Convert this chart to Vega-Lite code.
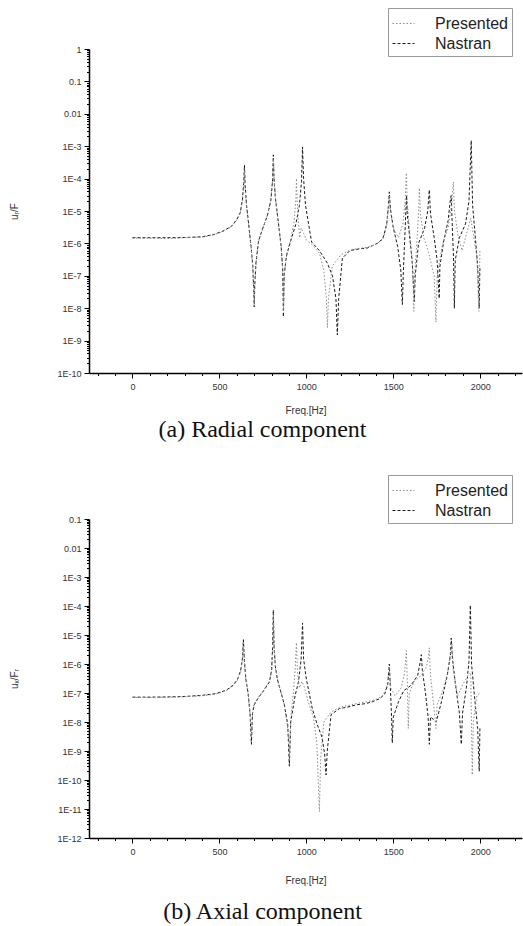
{
 "$schema": "https://vega.github.io/schema/vega-lite/v6.json",
 "autosize": "none",
 "padding": {"left": 89, "top": 49, "right": 434, "bottom": 877},
 "background": "white",
 "config": {"view": {"stroke": null}, "font": "Liberation Sans"},
 "spacing": 146,
 "bounds": "flush",
 "datasets": {
  "radial": [
   {"series":"Nastran","f":0,"v":1.5e-6},{"series":"Nastran","f":100,"v":1.5e-6},{"series":"Nastran","f":200,"v":1.5e-6},{"series":"Nastran","f":300,"v":1.52e-6},{"series":"Nastran","f":400,"v":1.6e-6},{"series":"Nastran","f":470,"v":1.9e-6},{"series":"Nastran","f":520,"v":2.4e-6},{"series":"Nastran","f":570,"v":3.4e-6},{"series":"Nastran","f":600,"v":5.5e-6},{"series":"Nastran","f":620,"v":9e-6},{"series":"Nastran","f":632,"v":2.2e-5},{"series":"Nastran","f":640,"v":8e-5},{"series":"Nastran","f":644,"v":2.6e-4},{"series":"Nastran","f":648,"v":6e-5},{"series":"Nastran","f":656,"v":1.5e-5},{"series":"Nastran","f":668,"v":4e-6},{"series":"Nastran","f":682,"v":8e-7},{"series":"Nastran","f":692,"v":2e-7},{"series":"Nastran","f":698,"v":3e-8},{"series":"Nastran","f":700,"v":1.1e-8},{"series":"Nastran","f":703,"v":5e-8},{"series":"Nastran","f":710,"v":2.5e-7},{"series":"Nastran","f":725,"v":1.2e-6},{"series":"Nastran","f":750,"v":3e-6},{"series":"Nastran","f":775,"v":7e-6},{"series":"Nastran","f":795,"v":2e-5},{"series":"Nastran","f":805,"v":8e-5},{"series":"Nastran","f":810,"v":5.4e-4},{"series":"Nastran","f":814,"v":1e-4},{"series":"Nastran","f":822,"v":2.5e-5},{"series":"Nastran","f":840,"v":4e-6},{"series":"Nastran","f":855,"v":8e-7},{"series":"Nastran","f":864,"v":1.5e-7},{"series":"Nastran","f":868,"v":5.4e-9},{"series":"Nastran","f":872,"v":1e-7},{"series":"Nastran","f":885,"v":4e-7},{"series":"Nastran","f":910,"v":1.2e-6},{"series":"Nastran","f":940,"v":4e-6},{"series":"Nastran","f":960,"v":1.5e-5},{"series":"Nastran","f":972,"v":8e-5},{"series":"Nastran","f":978,"v":9.5e-4},{"series":"Nastran","f":984,"v":1e-4},{"series":"Nastran","f":995,"v":1.5e-5},{"series":"Nastran","f":1030,"v":1.1e-6},{"series":"Nastran","f":1075,"v":6e-7},{"series":"Nastran","f":1120,"v":2.5e-7},{"series":"Nastran","f":1150,"v":1e-7},{"series":"Nastran","f":1170,"v":2e-8},{"series":"Nastran","f":1178,"v":1.5e-9},{"series":"Nastran","f":1186,"v":2e-8},{"series":"Nastran","f":1207,"v":3.5e-7},{"series":"Nastran","f":1250,"v":6e-7},{"series":"Nastran","f":1305,"v":6.8e-7},{"series":"Nastran","f":1350,"v":7.2e-7},{"series":"Nastran","f":1408,"v":1e-6},{"series":"Nastran","f":1440,"v":1.4e-6},{"series":"Nastran","f":1462,"v":4e-6},{"series":"Nastran","f":1472,"v":1.5e-5},{"series":"Nastran","f":1477,"v":3.9e-5},{"series":"Nastran","f":1483,"v":1.2e-5},{"series":"Nastran","f":1500,"v":3e-6},{"series":"Nastran","f":1525,"v":8e-7},{"series":"Nastran","f":1543,"v":1.5e-7},{"series":"Nastran","f":1552,"v":1.3e-8},{"series":"Nastran","f":1558,"v":1.5e-7},{"series":"Nastran","f":1566,"v":1.5e-6},{"series":"Nastran","f":1572,"v":1e-5},{"series":"Nastran","f":1576,"v":3e-5},{"series":"Nastran","f":1580,"v":8e-6},{"series":"Nastran","f":1592,"v":2e-6},{"series":"Nastran","f":1608,"v":3e-7},{"series":"Nastran","f":1618,"v":3e-8},{"series":"Nastran","f":1621,"v":1.6e-8},{"series":"Nastran","f":1626,"v":1e-7},{"series":"Nastran","f":1645,"v":1e-6},{"series":"Nastran","f":1680,"v":3e-6},{"series":"Nastran","f":1698,"v":1e-5},{"series":"Nastran","f":1707,"v":4.5e-5},{"series":"Nastran","f":1714,"v":8e-6},{"series":"Nastran","f":1735,"v":1.5e-6},{"series":"Nastran","f":1752,"v":3e-7},{"series":"Nastran","f":1762,"v":3e-8},{"series":"Nastran","f":1764,"v":2e-8},{"series":"Nastran","f":1768,"v":2e-7},{"series":"Nastran","f":1790,"v":1.2e-6},{"series":"Nastran","f":1815,"v":5e-6},{"series":"Nastran","f":1828,"v":2.2e-5},{"series":"Nastran","f":1833,"v":3e-5},{"series":"Nastran","f":1838,"v":5e-6},{"series":"Nastran","f":1846,"v":4e-7},{"series":"Nastran","f":1851,"v":1e-8},{"series":"Nastran","f":1856,"v":3e-7},{"series":"Nastran","f":1880,"v":1.5e-6},{"series":"Nastran","f":1915,"v":4e-6},{"series":"Nastran","f":1935,"v":2e-5},{"series":"Nastran","f":1948,"v":1.5e-3},{"series":"Nastran","f":1956,"v":1.5e-5},{"series":"Nastran","f":1970,"v":2e-6},{"series":"Nastran","f":1985,"v":2e-7},{"series":"Nastran","f":1994,"v":1e-8},{"series":"Nastran","f":1998,"v":2e-7},
   {"series":"Presented","f":0,"v":1.45e-6},{"series":"Presented","f":100,"v":1.45e-6},{"series":"Presented","f":200,"v":1.4e-6},{"series":"Presented","f":300,"v":1.5e-6},{"series":"Presented","f":400,"v":1.55e-6},{"series":"Presented","f":470,"v":1.85e-6},{"series":"Presented","f":520,"v":2.3e-6},{"series":"Presented","f":570,"v":3.3e-6},{"series":"Presented","f":600,"v":5.2e-6},{"series":"Presented","f":620,"v":8.5e-6},{"series":"Presented","f":632,"v":2e-5},{"series":"Presented","f":640,"v":6e-5},{"series":"Presented","f":644,"v":1.8e-4},{"series":"Presented","f":648,"v":5e-5},{"series":"Presented","f":656,"v":1.4e-5},{"series":"Presented","f":668,"v":3.8e-6},{"series":"Presented","f":682,"v":7e-7},{"series":"Presented","f":692,"v":1.8e-7},{"series":"Presented","f":698,"v":2.5e-8},{"series":"Presented","f":701,"v":1.4e-8},{"series":"Presented","f":704,"v":6e-8},{"series":"Presented","f":712,"v":3e-7},{"series":"Presented","f":728,"v":1.3e-6},{"series":"Presented","f":752,"v":3.2e-6},{"series":"Presented","f":776,"v":7.5e-6},{"series":"Presented","f":796,"v":2.2e-5},{"series":"Presented","f":806,"v":9e-5},{"series":"Presented","f":811,"v":4e-4},{"series":"Presented","f":815,"v":9e-5},{"series":"Presented","f":823,"v":2.2e-5},{"series":"Presented","f":840,"v":3.8e-6},{"series":"Presented","f":856,"v":7e-7},{"series":"Presented","f":865,"v":1.2e-7},{"series":"Presented","f":869,"v":8e-9},{"series":"Presented","f":873,"v":1.2e-7},{"series":"Presented","f":888,"v":5e-7},{"series":"Presented","f":912,"v":1.5e-6},{"series":"Presented","f":930,"v":5e-6},{"series":"Presented","f":940,"v":2.5e-5},{"series":"Presented","f":943,"v":1e-4},{"series":"Presented","f":947,"v":2e-5},{"series":"Presented","f":955,"v":4e-6},{"series":"Presented","f":962,"v":1.5e-6},{"series":"Presented","f":970,"v":3e-6},{"series":"Presented","f":985,"v":2e-6},{"series":"Presented","f":1000,"v":1.3e-6},{"series":"Presented","f":1034,"v":9e-7},{"series":"Presented","f":1075,"v":5e-7},{"series":"Presented","f":1100,"v":1.5e-7},{"series":"Presented","f":1115,"v":2e-8},{"series":"Presented","f":1121,"v":2.5e-9},{"series":"Presented","f":1127,"v":2e-8},{"series":"Presented","f":1149,"v":2e-7},{"series":"Presented","f":1200,"v":4.5e-7},{"series":"Presented","f":1250,"v":6.2e-7},{"series":"Presented","f":1300,"v":7e-7},{"series":"Presented","f":1350,"v":7.5e-7},{"series":"Presented","f":1400,"v":9.5e-7},{"series":"Presented","f":1440,"v":1.3e-6},{"series":"Presented","f":1462,"v":3.5e-6},{"series":"Presented","f":1472,"v":1.3e-5},{"series":"Presented","f":1477,"v":3e-5},{"series":"Presented","f":1483,"v":1e-5},{"series":"Presented","f":1500,"v":3e-6},{"series":"Presented","f":1530,"v":1.5e-6},{"series":"Presented","f":1555,"v":4e-6},{"series":"Presented","f":1568,"v":2e-5},{"series":"Presented","f":1575,"v":1.5e-4},{"series":"Presented","f":1580,"v":2e-5},{"series":"Presented","f":1595,"v":2e-6},{"series":"Presented","f":1610,"v":2.5e-7},{"series":"Presented","f":1618,"v":8e-9},{"series":"Presented","f":1622,"v":1e-7},{"series":"Presented","f":1635,"v":1e-6},{"series":"Presented","f":1645,"v":8e-6},{"series":"Presented","f":1650,"v":5.1e-5},{"series":"Presented","f":1656,"v":8e-6},{"series":"Presented","f":1675,"v":1.5e-6},{"series":"Presented","f":1700,"v":6e-7},{"series":"Presented","f":1735,"v":1e-7},{"series":"Presented","f":1745,"v":3.7e-9},{"series":"Presented","f":1752,"v":1e-7},{"series":"Presented","f":1780,"v":8e-7},{"series":"Presented","f":1815,"v":3e-6},{"series":"Presented","f":1835,"v":1.5e-5},{"series":"Presented","f":1845,"v":7.9e-5},{"series":"Presented","f":1852,"v":1e-5},{"series":"Presented","f":1870,"v":2e-6},{"series":"Presented","f":1895,"v":6e-7},{"series":"Presented","f":1915,"v":1.5e-6},{"series":"Presented","f":1930,"v":3e-6},{"series":"Presented","f":1945,"v":6e-6},{"series":"Presented","f":1960,"v":2e-6},{"series":"Presented","f":1980,"v":4e-7},{"series":"Presented","f":1992,"v":8e-9},{"series":"Presented","f":1998,"v":6e-7}
  ],
  "axial": [
   {"series":"Nastran","f":0,"v":7.2e-8},{"series":"Nastran","f":100,"v":7.2e-8},{"series":"Nastran","f":200,"v":7.3e-8},{"series":"Nastran","f":300,"v":7.6e-8},{"series":"Nastran","f":400,"v":8.3e-8},{"series":"Nastran","f":480,"v":9.5e-8},{"series":"Nastran","f":540,"v":1.25e-7},{"series":"Nastran","f":580,"v":1.9e-7},{"series":"Nastran","f":605,"v":3e-7},{"series":"Nastran","f":622,"v":6e-7},{"series":"Nastran","f":632,"v":1.5e-6},{"series":"Nastran","f":638,"v":6.9e-6},{"series":"Nastran","f":643,"v":1.5e-6},{"series":"Nastran","f":652,"v":3e-7},{"series":"Nastran","f":665,"v":1e-7},{"series":"Nastran","f":676,"v":2e-8},{"series":"Nastran","f":684,"v":1.7e-9},{"series":"Nastran","f":690,"v":2e-8},{"series":"Nastran","f":701,"v":4e-8},{"series":"Nastran","f":725,"v":7e-8},{"series":"Nastran","f":750,"v":1.1e-7},{"series":"Nastran","f":787,"v":2.4e-7},{"series":"Nastran","f":800,"v":6e-7},{"series":"Nastran","f":806,"v":4e-6},{"series":"Nastran","f":810,"v":7.2e-5},{"series":"Nastran","f":814,"v":4e-6},{"series":"Nastran","f":822,"v":8e-7},{"series":"Nastran","f":833,"v":3e-7},{"series":"Nastran","f":855,"v":1e-7},{"series":"Nastran","f":873,"v":4e-8},{"series":"Nastran","f":893,"v":8e-9},{"series":"Nastran","f":902,"v":3e-10},{"series":"Nastran","f":910,"v":1e-8},{"series":"Nastran","f":935,"v":8e-8},{"series":"Nastran","f":955,"v":2.5e-7},{"series":"Nastran","f":970,"v":1.5e-6},{"series":"Nastran","f":978,"v":2.6e-5},{"series":"Nastran","f":984,"v":1.5e-6},{"series":"Nastran","f":1000,"v":3e-7},{"series":"Nastran","f":1034,"v":2.9e-8},{"series":"Nastran","f":1063,"v":8e-9},{"series":"Nastran","f":1090,"v":3e-9},{"series":"Nastran","f":1105,"v":8e-10},{"series":"Nastran","f":1113,"v":1.5e-10},{"series":"Nastran","f":1120,"v":1e-9},{"series":"Nastran","f":1142,"v":1.8e-8},{"series":"Nastran","f":1190,"v":2.9e-8},{"series":"Nastran","f":1230,"v":3.2e-8},{"series":"Nastran","f":1287,"v":3.9e-8},{"series":"Nastran","f":1340,"v":4.3e-8},{"series":"Nastran","f":1380,"v":5e-8},{"series":"Nastran","f":1420,"v":6.3e-8},{"series":"Nastran","f":1450,"v":9e-8},{"series":"Nastran","f":1468,"v":2e-7},{"series":"Nastran","f":1477,"v":1e-6},{"series":"Nastran","f":1483,"v":1.5e-7},{"series":"Nastran","f":1490,"v":1.5e-8},{"series":"Nastran","f":1494,"v":1.9e-9},{"series":"Nastran","f":1500,"v":1.5e-8},{"series":"Nastran","f":1530,"v":5e-8},{"series":"Nastran","f":1560,"v":1.2e-7},{"series":"Nastran","f":1600,"v":1.8e-7},{"series":"Nastran","f":1640,"v":4e-7},{"series":"Nastran","f":1655,"v":1.2e-6},{"series":"Nastran","f":1661,"v":2.1e-6},{"series":"Nastran","f":1667,"v":6e-7},{"series":"Nastran","f":1685,"v":1e-7},{"series":"Nastran","f":1700,"v":1.5e-8},{"series":"Nastran","f":1707,"v":1.7e-9},{"series":"Nastran","f":1714,"v":1.5e-8},{"series":"Nastran","f":1747,"v":1e-8},{"series":"Nastran","f":1780,"v":6e-8},{"series":"Nastran","f":1810,"v":4e-7},{"series":"Nastran","f":1828,"v":2e-6},{"series":"Nastran","f":1833,"v":7.9e-6},{"series":"Nastran","f":1840,"v":1.5e-6},{"series":"Nastran","f":1860,"v":1.5e-7},{"series":"Nastran","f":1880,"v":2e-8},{"series":"Nastran","f":1891,"v":1.7e-9},{"series":"Nastran","f":1898,"v":2e-8},{"series":"Nastran","f":1920,"v":1.5e-7},{"series":"Nastran","f":1935,"v":1.2e-6},{"series":"Nastran","f":1943,"v":1.07e-4},{"series":"Nastran","f":1950,"v":1e-6},{"series":"Nastran","f":1965,"v":1e-7},{"series":"Nastran","f":1985,"v":6e-9},{"series":"Nastran","f":1994,"v":2e-10},{"series":"Nastran","f":1998,"v":6e-9},
   {"series":"Presented","f":0,"v":7e-8},{"series":"Presented","f":100,"v":7e-8},{"series":"Presented","f":200,"v":7.1e-8},{"series":"Presented","f":300,"v":7.4e-8},{"series":"Presented","f":400,"v":8e-8},{"series":"Presented","f":480,"v":9.2e-8},{"series":"Presented","f":540,"v":1.2e-7},{"series":"Presented","f":580,"v":1.8e-7},{"series":"Presented","f":605,"v":2.8e-7},{"series":"Presented","f":622,"v":5.5e-7},{"series":"Presented","f":632,"v":1.3e-6},{"series":"Presented","f":638,"v":6e-6},{"series":"Presented","f":643,"v":1.3e-6},{"series":"Presented","f":652,"v":2.8e-7},{"series":"Presented","f":665,"v":9e-8},{"series":"Presented","f":677,"v":1.5e-8},{"series":"Presented","f":685,"v":3e-9},{"series":"Presented","f":691,"v":2.5e-8},{"series":"Presented","f":702,"v":4.5e-8},{"series":"Presented","f":727,"v":7.5e-8},{"series":"Presented","f":752,"v":1.2e-7},{"series":"Presented","f":788,"v":2.6e-7},{"series":"Presented","f":801,"v":6.5e-7},{"series":"Presented","f":807,"v":4.5e-6},{"series":"Presented","f":811,"v":5e-5},{"series":"Presented","f":815,"v":3.5e-6},{"series":"Presented","f":823,"v":7e-7},{"series":"Presented","f":835,"v":2.8e-7},{"series":"Presented","f":857,"v":9e-8},{"series":"Presented","f":875,"v":3.5e-8},{"series":"Presented","f":895,"v":5e-9},{"series":"Presented","f":903,"v":6e-10},{"series":"Presented","f":911,"v":1.5e-8},{"series":"Presented","f":925,"v":1e-7},{"series":"Presented","f":935,"v":6e-7},{"series":"Presented","f":943,"v":5.4e-6},{"series":"Presented","f":949,"v":5e-7},{"series":"Presented","f":960,"v":1.5e-7},{"series":"Presented","f":975,"v":2.5e-7},{"series":"Presented","f":990,"v":1.5e-7},{"series":"Presented","f":1010,"v":5e-8},{"series":"Presented","f":1040,"v":1.5e-8},{"series":"Presented","f":1060,"v":2e-9},{"series":"Presented","f":1075,"v":8e-12},{"series":"Presented","f":1082,"v":5e-10},{"series":"Presented","f":1100,"v":1e-8},{"series":"Presented","f":1142,"v":2.2e-8},{"series":"Presented","f":1190,"v":3.2e-8},{"series":"Presented","f":1250,"v":3.8e-8},{"series":"Presented","f":1300,"v":4.5e-8},{"series":"Presented","f":1350,"v":5e-8},{"series":"Presented","f":1400,"v":6e-8},{"series":"Presented","f":1440,"v":8e-8},{"series":"Presented","f":1465,"v":1.8e-7},{"series":"Presented","f":1477,"v":8e-7},{"series":"Presented","f":1485,"v":1.5e-7},{"series":"Presented","f":1510,"v":8e-8},{"series":"Presented","f":1545,"v":1.5e-7},{"series":"Presented","f":1565,"v":5e-7},{"series":"Presented","f":1575,"v":2.9e-6},{"series":"Presented","f":1580,"v":3e-7},{"series":"Presented","f":1586,"v":6e-9},{"series":"Presented","f":1592,"v":1e-7},{"series":"Presented","f":1620,"v":2.5e-7},{"series":"Presented","f":1660,"v":4e-7},{"series":"Presented","f":1690,"v":8e-7},{"series":"Presented","f":1700,"v":1.5e-6},{"series":"Presented","f":1707,"v":3.6e-6},{"series":"Presented","f":1714,"v":4e-7},{"series":"Presented","f":1730,"v":5e-8},{"series":"Presented","f":1745,"v":6e-9},{"series":"Presented","f":1752,"v":4e-8},{"series":"Presented","f":1790,"v":1.5e-7},{"series":"Presented","f":1815,"v":6e-7},{"series":"Presented","f":1830,"v":3e-6},{"series":"Presented","f":1838,"v":5e-6},{"series":"Presented","f":1845,"v":6e-7},{"series":"Presented","f":1870,"v":8e-8},{"series":"Presented","f":1900,"v":2e-7},{"series":"Presented","f":1930,"v":4e-7},{"series":"Presented","f":1945,"v":5e-7},{"series":"Presented","f":1954,"v":1.5e-10},{"series":"Presented","f":1960,"v":1e-8},{"series":"Presented","f":1980,"v":8e-8},{"series":"Presented","f":1990,"v":9e-8},{"series":"Presented","f":1998,"v":1e-7}
  ]
 },
 "vconcat": [
  {
   "width": 433, "height": 324,
   "data": {"name": "radial"},
   "title": {"text": "(a)    Radial component", "orient": "bottom", "anchor": "middle", "frame": "group", "dx": -43, "offset": 3, "font": "Liberation Serif", "fontSize": 24, "fontWeight": "normal", "color": "#111"},
   "mark": {"type": "line", "strokeWidth": 1, "clip": true},
   "encoding": {
    "x": {"field": "f", "type": "quantitative", "scale": {"domain": [-250, 2240], "nice": false, "zero": false},
     "axis": {"title": "Freq.[Hz]", "values": [-200,-100,0,100,200,300,400,500,600,700,800,900,1000,1100,1200,1300,1400,1500,1600,1700,1800,1900,2000,2100,2200], "format": "d", "labelExpr": "datum.value % 500 === 0 ? datum.label : ''", "tickSize": {"condition": {"test": "datum.value % 500 === 0", "value": 5}, "value": 2.5}, "labelFontSize": 9, "labelColor": "#333", "titleFontSize": 10, "titleFontWeight": "normal", "titleColor": "#333", "domainColor": "#000", "domainWidth": 1.5, "tickColor": "#000", "grid": false, "labelFlush": false, "labelOverlap": false, "labelPadding": 4, "titlePadding": 14}},
    "y": {"field": "v", "type": "quantitative", "scale": {"type": "log", "domain": [1e-10, 1], "nice": false},
     "axis": {"title": "uᵣ/F", "values": [1e-10,2e-10,3e-10,4e-10,5e-10,6e-10,7e-10,8e-10,9e-10,1e-9,2e-9,3e-9,4e-9,5e-9,6e-9,7e-9,8e-9,9e-9,1e-8,2e-8,3e-8,4e-8,5e-8,6e-8,7e-8,8e-8,9e-8,1e-7,2e-7,3e-7,4e-7,5e-7,6e-7,7e-7,8e-7,9e-7,1e-6,2e-6,3e-6,4e-6,5e-6,6e-6,7e-6,8e-6,9e-6,1e-5,2e-5,3e-5,4e-5,5e-5,6e-5,7e-5,8e-5,9e-5,1e-4,2e-4,3e-4,4e-4,5e-4,6e-4,7e-4,8e-4,9e-4,1e-3,2e-3,3e-3,4e-3,5e-3,6e-3,7e-3,8e-3,9e-3,0.01,0.02,0.03,0.04,0.05,0.06,0.07,0.08,0.09,0.1,0.2,0.3,0.4,0.5,0.6,0.7,0.8,0.9,1], "labelExpr": "abs(log(datum.value)/LN10 - round(log(datum.value)/LN10)) > 0.001 ? '' : (round(log(datum.value)/LN10) >= -2 ? format(datum.value, '') : '1E' + round(log(datum.value)/LN10))", "tickSize": {"condition": {"test": "abs(log(datum.value)/LN10 - round(log(datum.value)/LN10)) < 0.001", "value": 5}, "value": 2.5}, "labelFontSize": 9, "labelColor": "#333", "titleFontSize": 10, "titleFontWeight": "normal", "titleColor": "#333", "titleX": -70, "domainColor": "#000", "domainWidth": 1.5, "tickColor": "#000", "grid": false, "labelOverlap": false, "labelPadding": 3}},
    "color": {"field": "series", "type": "nominal", "scale": {"domain": ["Presented", "Nastran"], "range": ["#8c8c8c", "#1a1a1a"]},
     "legend": {"title": null, "orient": "none", "legendX": 299, "legendY": -41, "symbolType": "stroke", "symbolSize": 484, "symbolStrokeWidth": 1, "labelFontSize": 16, "labelColor": "#222", "padding": 4, "strokeColor": "#999", "rowPadding": -3, "labelOffset": 20}},
    "strokeDash": {"field": "series", "type": "nominal", "scale": {"domain": ["Presented", "Nastran"], "range": [[1.5, 2], [3, 2]]},
     "legend": {"title": null, "orient": "none", "legendX": 299, "legendY": -41, "symbolType": "stroke", "symbolSize": 484, "symbolStrokeWidth": 1, "labelFontSize": 16, "labelColor": "#222", "padding": 4, "strokeColor": "#999", "rowPadding": -3, "labelOffset": 20}}
   }
  },
  {
   "width": 433, "height": 319,
   "data": {"name": "axial"},
   "title": {"text": "(b)    Axial component", "orient": "bottom", "anchor": "middle", "frame": "group", "dx": -43, "offset": 15, "font": "Liberation Serif", "fontSize": 24, "fontWeight": "normal", "color": "#111"},
   "mark": {"type": "line", "strokeWidth": 1, "clip": true},
   "encoding": {
    "x": {"field": "f", "type": "quantitative", "scale": {"domain": [-250, 2240], "nice": false, "zero": false},
     "axis": {"title": "Freq.[Hz]", "values": [-200,-100,0,100,200,300,400,500,600,700,800,900,1000,1100,1200,1300,1400,1500,1600,1700,1800,1900,2000,2100,2200], "format": "d", "labelExpr": "datum.value % 500 === 0 ? datum.label : ''", "tickSize": {"condition": {"test": "datum.value % 500 === 0", "value": 5}, "value": 2.5}, "labelFontSize": 9, "labelColor": "#333", "titleFontSize": 10, "titleFontWeight": "normal", "titleColor": "#333", "domainColor": "#000", "domainWidth": 1.5, "tickColor": "#000", "grid": false, "labelFlush": false, "labelOverlap": false, "labelPadding": 4, "titlePadding": 19}},
    "y": {"field": "v", "type": "quantitative", "scale": {"type": "log", "domain": [1e-12, 0.1], "nice": false},
     "axis": {"title": "uₓ/Fᵣ", "values": [1e-12,2e-12,3e-12,4e-12,5e-12,6e-12,7e-12,8e-12,9e-12,1e-11,2e-11,3e-11,4e-11,5e-11,6e-11,7e-11,8e-11,9e-11,1e-10,2e-10,3e-10,4e-10,5e-10,6e-10,7e-10,8e-10,9e-10,1e-9,2e-9,3e-9,4e-9,5e-9,6e-9,7e-9,8e-9,9e-9,1e-8,2e-8,3e-8,4e-8,5e-8,6e-8,7e-8,8e-8,9e-8,1e-7,2e-7,3e-7,4e-7,5e-7,6e-7,7e-7,8e-7,9e-7,1e-6,2e-6,3e-6,4e-6,5e-6,6e-6,7e-6,8e-6,9e-6,1e-5,2e-5,3e-5,4e-5,5e-5,6e-5,7e-5,8e-5,9e-5,1e-4,2e-4,3e-4,4e-4,5e-4,6e-4,7e-4,8e-4,9e-4,1e-3,2e-3,3e-3,4e-3,5e-3,6e-3,7e-3,8e-3,9e-3,0.01,0.02,0.03,0.04,0.05,0.06,0.07,0.08,0.09,0.1], "labelExpr": "abs(log(datum.value)/LN10 - round(log(datum.value)/LN10)) > 0.001 ? '' : (round(log(datum.value)/LN10) >= -2 ? format(datum.value, '') : '1E' + round(log(datum.value)/LN10))", "tickSize": {"condition": {"test": "abs(log(datum.value)/LN10 - round(log(datum.value)/LN10)) < 0.001", "value": 5}, "value": 2.5}, "labelFontSize": 9, "labelColor": "#333", "titleFontSize": 10, "titleFontWeight": "normal", "titleColor": "#333", "titleX": -70, "domainColor": "#000", "domainWidth": 1.5, "tickColor": "#000", "grid": false, "labelOverlap": false, "labelPadding": 3}},
    "color": {"field": "series", "type": "nominal", "scale": {"domain": ["Presented", "Nastran"], "range": ["#8c8c8c", "#1a1a1a"]},
     "legend": {"title": null, "orient": "none", "legendX": 299, "legendY": -44, "symbolType": "stroke", "symbolSize": 484, "symbolStrokeWidth": 1, "labelFontSize": 16, "labelColor": "#222", "padding": 4, "strokeColor": "#999", "rowPadding": -3, "labelOffset": 20}},
    "strokeDash": {"field": "series", "type": "nominal", "scale": {"domain": ["Presented", "Nastran"], "range": [[1.5, 2], [3, 2]]},
     "legend": {"title": null, "orient": "none", "legendX": 299, "legendY": -44, "symbolType": "stroke", "symbolSize": 484, "symbolStrokeWidth": 1, "labelFontSize": 16, "labelColor": "#222", "padding": 4, "strokeColor": "#999", "rowPadding": -3, "labelOffset": 20}}
   }
  }
 ],
 "resolve": {"scale": {"color": "independent", "strokeDash": "independent", "x": "independent", "y": "independent"}, "legend": {"color": "independent", "strokeDash": "independent"}}
}
